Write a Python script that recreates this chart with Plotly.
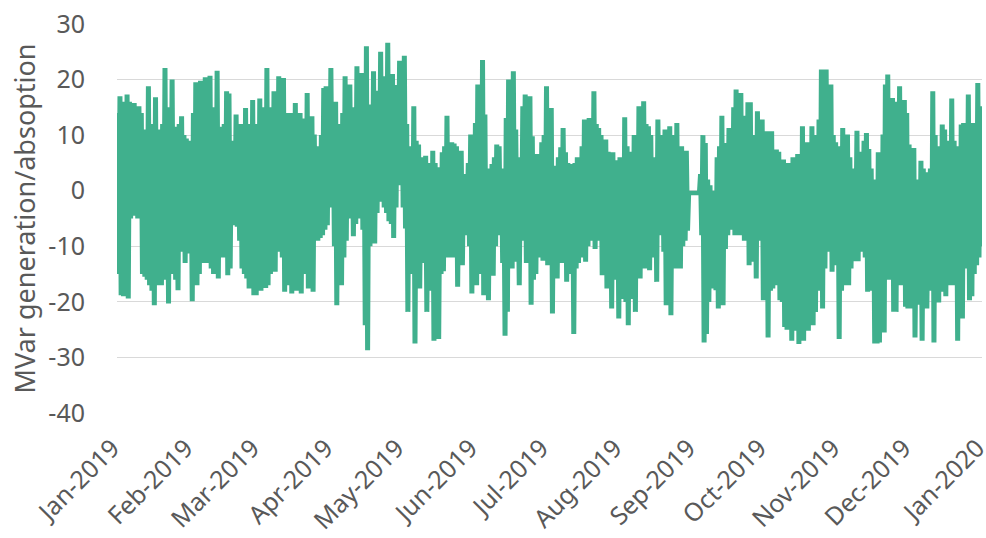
import pandas as pd
import plotly.graph_objects as go

# Daily maximum and minimum MVar values (day 0 = 1 Jan 2019)
daily_high = [
    14, 17, 16, 15, 17.3, 16, 15.5, 15.8, 15, 15.2,
    14, 10, 11, 18.8, 12, 10, 16.8, 11, 9, 12,
    22.1, 10, 15, 20, 11.5, 10, 12, 13.4, 10, 9.4,
    9, 8, 14, 19.5, 12, 19.8, 10, 20.4, 12, 20.7,
    11, 15, 21.6, 11.5, 9, 12, 17.9, 17.5, 7.8, 9,
    13.7, 10, 12, 11, 14.9, 12, 10, 16.3, 12, 10,
    16.6, 15, 14, 22.1, 13, 15, 17.9, 15, 20.6, 19,
    20.3, 14, 12, 14, 13, 15.8, 12, 14, 11, 13,
    17.6, 12, 13.4, 10.1, 8, 6.8, 10, 18.5, 18.8, 15,
    22.1, 13, 16, 12, 10, 14, 20.6, 16, 19.1, 12,
    15, 22.4, 18, 21.2, 16, 26, 15, 15.5, 21.5, 16,
    18, 25, 20.6, 18, 26.6, 20, 21, 17, 19, 23.4,
    22, 24.3, 12, 8, 6, 15.2, 9, 8.3, 6, 5,
    6.3, 4, 5, 7.2, 5, 4.2, 3, 6.9, 8, 13.5,
    7, 8.7, 8.5, 8, 6, 7.2, 3, 3, 5, 10.1,
    10, 12.2, 19.1, 14, 23.5, 13.7, 4, 3, 4.8, 6,
    8.3, 8, 4, 3, 13.1, 20, 12, 21.5, 11, 1,
    6, 15.2, 17.3, 8, 17, 9.8, 5.1, 6.6, 6, 8.7,
    10, 18.8, 10, 14.9, 4.5, 4.5, 6, 7.8, 11.3, 6.9,
    5, 4, 4.8, 5, 6, 5.5, 8, 12.8, 9, 13.1,
    10, 17.9, 12, 11.3, 10, 8, 9.2, 7, 5, 6.9,
    5.5, 5, 6, 5, 13.2, 8, 5, 7, 10, 9,
    15.2, 12, 16.1, 12, 11.6, 10, 6, 5, 12.8, 10,
    9, 11, 8, 11.6, 9, 10, 12.2, 5, 8, 6,
    7.2, -0.2, -0.2, -0.2, -0.2, -0.2, 3, 10, 8.6, 2,
    1, 0, -2, 6, 8, 13.5, 8.6, 6, 11.3, 9,
    15, 18.2, 14, 17.6, 12, 13.5, 15.9, 15.9, 10, 8.6,
    14.3, 9, 12.8, 9, 10.7, 8, 10.7, 7, 7.4, 7,
    5, 5.6, 4.8, 5, 5, 6, 4, 6.6, 5, 11.6,
    7, 8.7, 7, 11.6, 8.5, 10, 12.8, 21.8, 15, 21.8,
    16, 19.1, 10, 8.7, 7, 8, 11.3, 9, 10.1, 6,
    4, 2, 10.8, 7, 6.7, 9, 10.4, 7.5, 4, 1,
    2, 6.9, 6, 10.1, 19.1, 20.9, 14, 16.7, 16, 13,
    18.8, 14, 16.3, 14, 8.3, 7, 7.7, -5.3, 2, 5.4,
    4, 3.3, -1.5, 4, 17.9, 10, 6, 8, 11.9, 11,
    9, 5, 16.6, 9, 6, 8, 11.9, 12.2, 9, 17.3,
    12, 12.2, 10, 19.4, 15.2,
]

daily_low = [
    -15, -18.8, -19, -12, -19.4, -5, -4.5, -4, -5, -4.5,
    -15, -15.5, -16, -17, -18, -20.6, -16, -17, -17, -14,
    -16, -20.3, -15, -12, -16, -17.9, -11, -10.6, -13, -11.3,
    -11, -19.9, -17, -17, -15, -13, -12, -13, -11, -14,
    -15, -13, -15.8, -12, -12, -11, -15.2, -14, -6, -6.2,
    -6.5, -9, -14, -15, -15.8, -17.6, -16, -18.8, -18.8, -17,
    -18, -16, -17.5, -17, -15, -13, -14.6, -11, -10, -12,
    -18.2, -15, -17, -18.5, -16, -18, -14, -18.5, -15, -14,
    -17.6, -14, -18.2, -8.5, -9, -8.5, -8, -7, -6.2, -3,
    -2, -10, -20.6, -14, -17, -12, -9, -5, -4, -8.2,
    -6, -5, -3, -7, -24.2, -28.7, -10, -6.8, -9.5, -4,
    -2, -1, -3, -4, -5.5, -6, -8.5, -3, 1, 1.5,
    -3, -6.8, -21.8, -15, -13, -27.5, -14, -17.6, -13, -12,
    -21.8, -16, -18, -27, -20, -26.7, -15, -14.5, -10, -12,
    -9, -12, -11, -17.3, -12, -13.4, -8, -5.3, -10, -18.5,
    -14, -17, -12, -15, -18.8, -18.5, -19.7, -12, -15.3, -10,
    -8, -7.9, -13, -26.1, -21.8, -12, -14, -12.8, -10, -17,
    -9, -8, -13, -11, -20.5, -16, -15, -12, -10, -12.6,
    -11, -13.4, -12, -22.1, -14, -15.8, -12, -13, -8, -16.4,
    -14, -15, -25.8, -14, -13, -11, -12, -12.8, -10, -7,
    -9, -10.5, -9, -7.5, -15.2, -14, -17.6, -15, -21.2, -15.8,
    -16, -23, -18, -19.5, -20, -24.2, -19.5, -17, -21.8, -14,
    -15.8, -12.8, -14, -13, -14.3, -12, -10, -16.4, -8, -6.2,
    -11, -20.6, -18, -22.4, -14, -12, -14, -14, -10, -9,
    -7.2, -0.6, -0.6, -0.6, -0.6, -0.6, -8, -27.3, -25.8, -20,
    -17.6, -16, -17.9, -21.2, -16, -20.6, -10.5, -8, -5.5, -7,
    -8, -7, -8, -7.9, -9, -9, -13.4, -12.8, -10, -15.8,
    -5.3, -9, -19.7, -19, -26.4, -18, -17.6, -16, -17, -19.7,
    -20, -24.5, -25, -23, -27, -25.2, -22, -27.6, -24, -27,
    -22, -25.2, -20, -24.2, -21.8, -18, -13.4, -21.2, -14, -10,
    -11, -14.6, -12, -13.4, -26.7, -18, -17, -15, -17, -14,
    -12.7, -10, -12.7, -11, -6.2, -12, -18.2, -18, -15, -27.5,
    -27.5, -27.3, -22, -25.5, -16, -16, -14, -21.8, -21.8, -17,
    -17, -14, -20.9, -21.2, -21.2, -15, -26.4, -20.5, -18, -27,
    -20, -21.2, -17, -18, -27.3, -16, -20.1, -15, -18.2, -19,
    -14, -17, -17, -15, -27, -19, -23, -13.5, -14, -19.7,
    -19, -15, -13.4, -12, -10,
]

end_value = 15
start_date = "2019-01-01"

y_tick_values = [-40, -30, -20, -10, 0, 10, 20, 30]
y_tick_labels = ["-40", "-30", "-20", "-10", "0", "10", "20", "30"]

x_tick_dates = ["2019-01-01", "2019-02-01", "2019-03-01", "2019-04-01", "2019-05-01",
                "2019-06-01", "2019-07-01", "2019-08-01", "2019-09-01", "2019-10-01",
                "2019-11-01", "2019-12-01", "2020-01-01"]
x_tick_labels = ["Jan-2019", "Feb-2019", "Mar-2019", "Apr-2019", "May-2019", "Jun-2019",
                 "Jul-2019", "Aug-2019", "Sep-2019", "Oct-2019", "Nov-2019", "Dec-2019",
                 "Jan-2020"]

# Build the zigzag series: high then low within each day
t0 = pd.Timestamp(start_date)
xs, ys = [], []
for d, (h, l) in enumerate(zip(daily_high, daily_low)):
    xs.append(t0 + pd.Timedelta(hours=d * 24 + 6))
    ys.append(h)
    xs.append(t0 + pd.Timedelta(hours=d * 24 + 18))
    ys.append(l)
xs.append(t0 + pd.Timedelta(hours=len(daily_high) * 24 - 1))
ys.append(end_value)

fig = go.Figure()
fig.add_trace(go.Scatter(
    x=xs, y=ys, mode="lines",
    line=dict(color="#40B08D", width=5),
    showlegend=False, hoverinfo="skip",
))

font_family = "Noto Sans"
text_color = "#595959"
# a trailing no-break space pulls each end-anchored angled label slightly back from its tick
x_tick_text = [lab + "\u00a0" for lab in x_tick_labels]

fig.update_layout(
    width=986, height=538,
    margin=dict(l=117, r=4, t=24, b=125, autoexpand=False),
    paper_bgcolor="white", plot_bgcolor="white",
    font=dict(family=font_family, color=text_color, size=25),
    xaxis=dict(
        type="date",
        range=["2019-01-01", "2020-01-01 00:30"],
        tickvals=x_tick_dates, ticktext=x_tick_text,
        tickangle=-45,
        showgrid=False, zeroline=False, showline=False,
        ticks="outside", ticklen=5, tickcolor="rgba(0,0,0,0)",
        tickfont=dict(size=25, color=text_color),
        ticklabeloverflow="allow",
        automargin=False,
    ),
    yaxis=dict(
        range=[-40, 30],
        tickvals=y_tick_values, ticktext=y_tick_labels,
        showgrid=True, gridcolor="#D9D9D9", gridwidth=1.3,
        zeroline=False, showline=False,
        ticks="outside", ticklen=26, tickcolor="rgba(0,0,0,0)",
        tickfont=dict(size=25, color=text_color),
        title=dict(text="MVar generation/absoption", font=dict(size=27, color=text_color), standoff=4),
        automargin=False,
    ),
)

fig.write_html("out.html", config={"displayModeBar": False})

# Remove the browser's default page margin so the figure sits at the window origin
with open("out.html", "r", encoding="utf-8") as f:
    html = f.read()
html = html.replace("<head>", "<head><style>html,body{margin:0;padding:0;overflow:hidden;}</style>", 1)
with open("out.html", "w", encoding="utf-8") as f:
    f.write(html)
